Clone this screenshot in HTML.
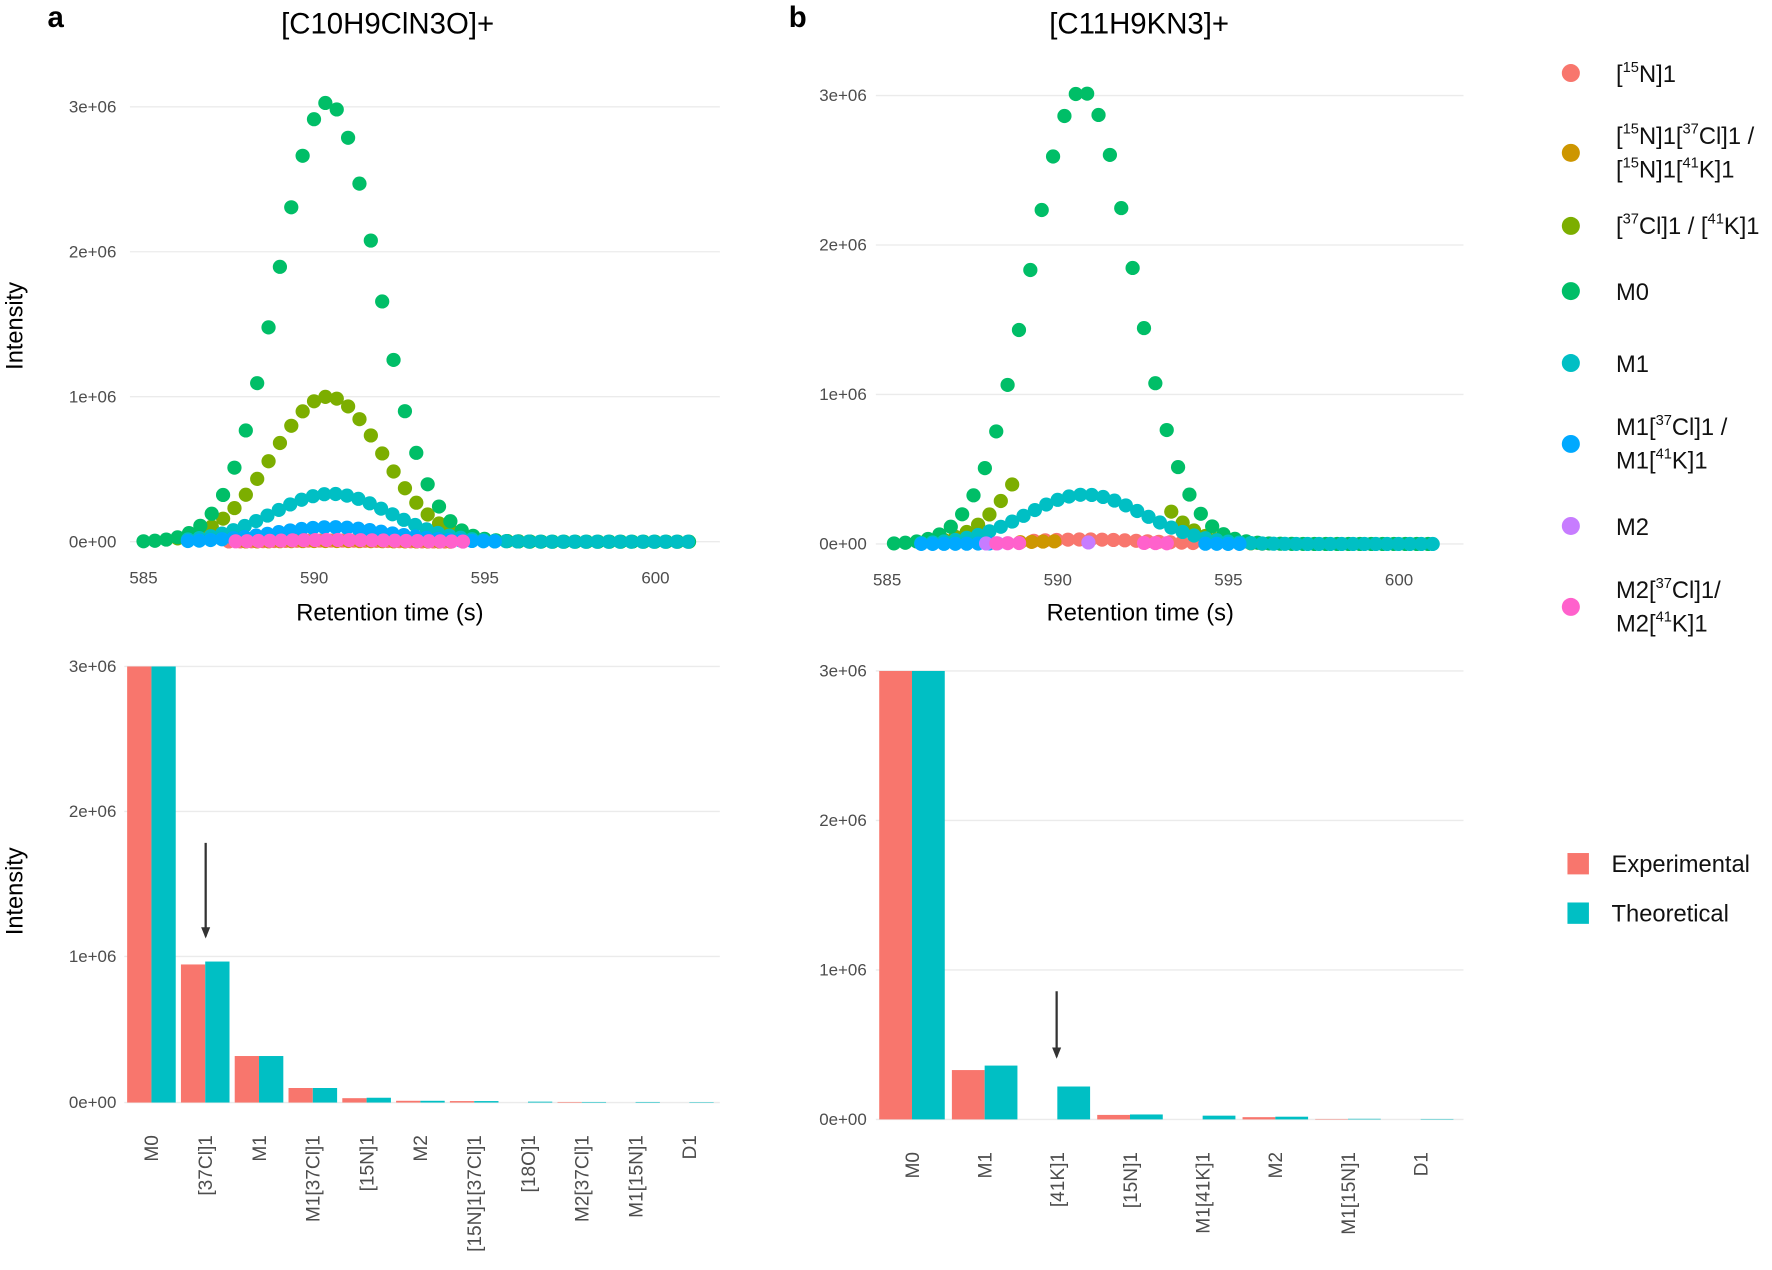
<!DOCTYPE html>
<html><head><meta charset="utf-8"><style>
html,body{margin:0;padding:0;background:#fff;}
svg{display:block;font-family:"Liberation Sans",sans-serif;}
.tick{font-size:15px;fill:#4d4d4d;}
.ttl{font-size:21px;fill:#000;}
.leg{font-size:21px;fill:#111;}
.grid{stroke:#ebebeb;stroke-width:1.2;}
</style></head><body>
<svg id="s" width="1772" height="1270" viewBox="0 0 1568 1130" preserveAspectRatio="none" xmlns="http://www.w3.org/2000/svg">
<rect width="1568" height="1130" fill="#fff"/>
<text x="42" y="24" style="font-size:26px;font-weight:bold">a</text>
<text x="698" y="24" style="font-size:26px;font-weight:bold">b</text>
<text x="343" y="30" text-anchor="middle" style="font-size:26px">[C10H9ClN3O]+</text>
<text x="1008" y="30" text-anchor="middle" style="font-size:26px">[C11H9KN3]+</text>
<text class="ttl" transform="translate(20,290) rotate(-90)" text-anchor="middle">Intensity</text>
<text class="ttl" transform="translate(20,793) rotate(-90)" text-anchor="middle">Intensity</text>
<text class="ttl" x="345" y="552" text-anchor="middle">Retention time (s)</text>
<text class="ttl" x="1009" y="552" text-anchor="middle">Retention time (s)</text>
<g id="g"></g>
<circle cx="1390" cy="65" r="8" fill="#F8766D"/><text class="leg" x="1430" y="73">[<tspan font-size="13" dy="-9">15</tspan><tspan dy="9">N]1</tspan></text>
<circle cx="1390" cy="136" r="8" fill="#CD9600"/>
<text class="leg" x="1430" y="128">[<tspan font-size="13" dy="-9">15</tspan><tspan dy="9">N]1[</tspan><tspan font-size="13" dy="-9">37</tspan><tspan dy="9">Cl]1 /</tspan></text>
<text class="leg" x="1430" y="158">[<tspan font-size="13" dy="-9">15</tspan><tspan dy="9">N]1[</tspan><tspan font-size="13" dy="-9">41</tspan><tspan dy="9">K]1</tspan></text>
<circle cx="1390" cy="201" r="8" fill="#7CAE00"/>
<text class="leg" x="1430" y="208">[<tspan font-size="13" dy="-9">37</tspan><tspan dy="9">Cl]1 / [</tspan><tspan font-size="13" dy="-9">41</tspan><tspan dy="9">K]1</tspan></text>
<circle cx="1390" cy="259" r="8" fill="#00BE67"/><text class="leg" x="1430" y="267">M0</text>
<circle cx="1390" cy="323" r="8" fill="#00BFC4"/><text class="leg" x="1430" y="331">M1</text>
<circle cx="1390" cy="395" r="8" fill="#00A9FF"/>
<text class="leg" x="1430" y="387">M1[<tspan font-size="13" dy="-9">37</tspan><tspan dy="9">Cl]1 /</tspan></text>
<text class="leg" x="1430" y="417">M1[<tspan font-size="13" dy="-9">41</tspan><tspan dy="9">K]1</tspan></text>
<circle cx="1390" cy="468" r="8" fill="#C77CFF"/><text class="leg" x="1430" y="476">M2</text>
<circle cx="1390" cy="540" r="8" fill="#FF61CC"/>
<text class="leg" x="1430" y="532">M2[<tspan font-size="13" dy="-9">37</tspan><tspan dy="9">Cl]1/</tspan></text>
<text class="leg" x="1430" y="562">M2[<tspan font-size="13" dy="-9">41</tspan><tspan dy="9">K]1</tspan></text>
<rect x="1387" y="759" width="19" height="19" fill="#F8766D"/><text class="leg" x="1426" y="776">Experimental</text>
<rect x="1387" y="803" width="19" height="19" fill="#00BFC4"/><text class="leg" x="1426" y="820">Theoretical</text>
</svg>
<script>
var NS="http://www.w3.org/2000/svg",G=document.getElementById("g");
function el(t,a,txt){var e=document.createElementNS(NS,t);for(var k in a)e.setAttribute(k,a[k]);if(txt!==undefined)e.textContent=txt;G.appendChild(e);return e;}
var C={r:"#F8766D",o:"#CD9600",ol:"#7CAE00",g:"#00BE67",c:"#00BFC4",b:"#00A9FF",p:"#C77CFF",pk:"#FF61CC"};
function yaxis(x0,x1,ys,lx){var L=["0e+00","1e+06","2e+06","3e+06"];for(var i=0;i<4;i++){el("line",{x1:x0,x2:x1,y1:ys[i],y2:ys[i],"class":"grid"});el("text",{x:lx,y:ys[i]+5,"text-anchor":"end","class":"tick"},L[i]);}}
function scatter(P){
 yaxis(P.x0,P.x1,P.ys,P.lx);
 var sx=function(t){return P.X585+(t-585)*P.kx;},sy=function(v){return P.ys[0]-v*(P.ys[0]-P.ys[3])/3e6;};
 [585,590,595,600].forEach(function(t){el("text",{x:sx(t),y:P.ys[0]+37,"text-anchor":"middle","class":"tick"},t);});
 P.series.forEach(function(s){for(var t=s.a;t<=s.b+1e-6;t+=0.333){if(s.f&&!s.f(t))continue;var v=s.h*Math.exp(-Math.pow(t-s.mu,2)/(2*s.sd*s.sd));el("circle",{cx:sx(t),cy:sy(v),r:6.3,fill:s.col});}});
}
scatter({x0:115,x1:637,lx:103,ys:[482,353,224,95],X585:127,kx:30.2,series:[
 {col:C.r,a:587.5,b:594,h:8e3,mu:590.5,sd:1.7},
 {col:C.o,a:588,b:594,h:5e3,mu:590.5,sd:1.7},
 {col:C.ol,a:586,b:596.5,h:1.0e6,mu:590.4,sd:1.6},
 {col:C.g,a:585,b:601,h:3.03e6,mu:590.4,sd:1.45},
 {col:C.c,a:586.3,b:601,h:3.3e5,mu:590.5,sd:1.7},
 {col:C.b,a:586.3,b:595.3,h:1.0e5,mu:590.5,sd:1.7},
 {col:C.pk,a:587.7,b:594.4,h:1.2e4,mu:590.6,sd:1.7}
]});
scatter({x0:775,x1:1295,lx:767,ys:[484,351,218,85],X585:785,kx:30.2,series:[
 {col:C.r,a:589.3,b:594,h:3e4,mu:590.8,sd:1.8},
 {col:C.o,a:588.9,b:590,h:2e4,mu:590.8,sd:1.8},
 {col:C.ol,a:586,b:596,h:1.0e6,mu:590.7,sd:1.5,f:function(t){return t<588.8||t>593;}},
 {col:C.g,a:585.2,b:601,h:3.03e6,mu:590.7,sd:1.5},
 {col:C.c,a:586,b:601,h:3.3e5,mu:590.8,sd:1.7},
 {col:C.b,a:586,b:595.5,h:1.5e4,mu:590.8,sd:1.7,f:function(t){return t<588||t>594;}},
 {col:C.p,a:587.9,b:591,h:1e4,mu:590.8,sd:2,f:function(t){return t<588.3||Math.abs(t-590.8)<0.2;}},
 {col:C.pk,a:588.2,b:593.2,h:1e4,mu:590.8,sd:2,f:function(t){return t<588.9||t>592.4;}}
]});
function bars(B){
 yaxis(B.x0,B.x1,B.ys,B.lx);
 var k=(B.ys[0]-B.ys[3])/3e6;
 B.d.forEach(function(d,i){var c=B.c0+i*B.step;
  if(d[1]>0)el("rect",{x:c-B.w,y:B.ys[0]-d[1]*k,width:B.w,height:d[1]*k,fill:C.r});
  if(d[2]>0)el("rect",{x:c,y:B.ys[0]-d[2]*k,width:B.w,height:d[2]*k,fill:C.c});
  el("text",{transform:"translate("+(c+6)+","+(B.ys[0]+29)+") rotate(-90)","text-anchor":"end","class":"tick",style:"font-size:17px"},d[0]);
 });
 el("line",{x1:B.ar[0],x2:B.ar[0],y1:B.ar[1],y2:B.ar[2]-2,stroke:"#333","stroke-width":2});
 el("path",{d:"M"+(B.ar[0]-4)+","+(B.ar[2]-10)+"L"+B.ar[0]+","+B.ar[2]+"L"+(B.ar[0]+4)+","+(B.ar[2]-10)+"Z",fill:"#333"});
}
bars({x0:110,x1:637,lx:103,ys:[981,851,722,593],c0:134,step:47.6,w:21.5,ar:[182,750,835],d:[
 ["M0",3e6,3e6],["[37Cl]1",0.95e6,0.97e6],["M1",0.32e6,0.32e6],["M1[37Cl]1",0.1e6,0.1e6],["[15N]1",0.03e6,0.033e6],["M2",0.012e6,0.012e6],["[15N]1[37Cl]1",0.01e6,0.01e6],["[18O]1",0,0.006e6],["M2[37Cl]1",0.004e6,0.004e6],["M1[15N]1",0,0.004e6],["D1",0,0.003e6]]});
bars({x0:775,x1:1295,lx:767,ys:[996,863,730,597],c0:807,step:64.3,w:29,ar:[935,882,942],d:[
 ["M0",3e6,3e6],["M1",0.33e6,0.36e6],["[41K]1",0,0.22e6],["[15N]1",0.03e6,0.033e6],["M1[41K]1",0,0.025e6],["M2",0.015e6,0.018e6],["M1[15N]1",0.003e6,0.004e6],["D1",0,0.003e6]]});
</script>
</body></html>
